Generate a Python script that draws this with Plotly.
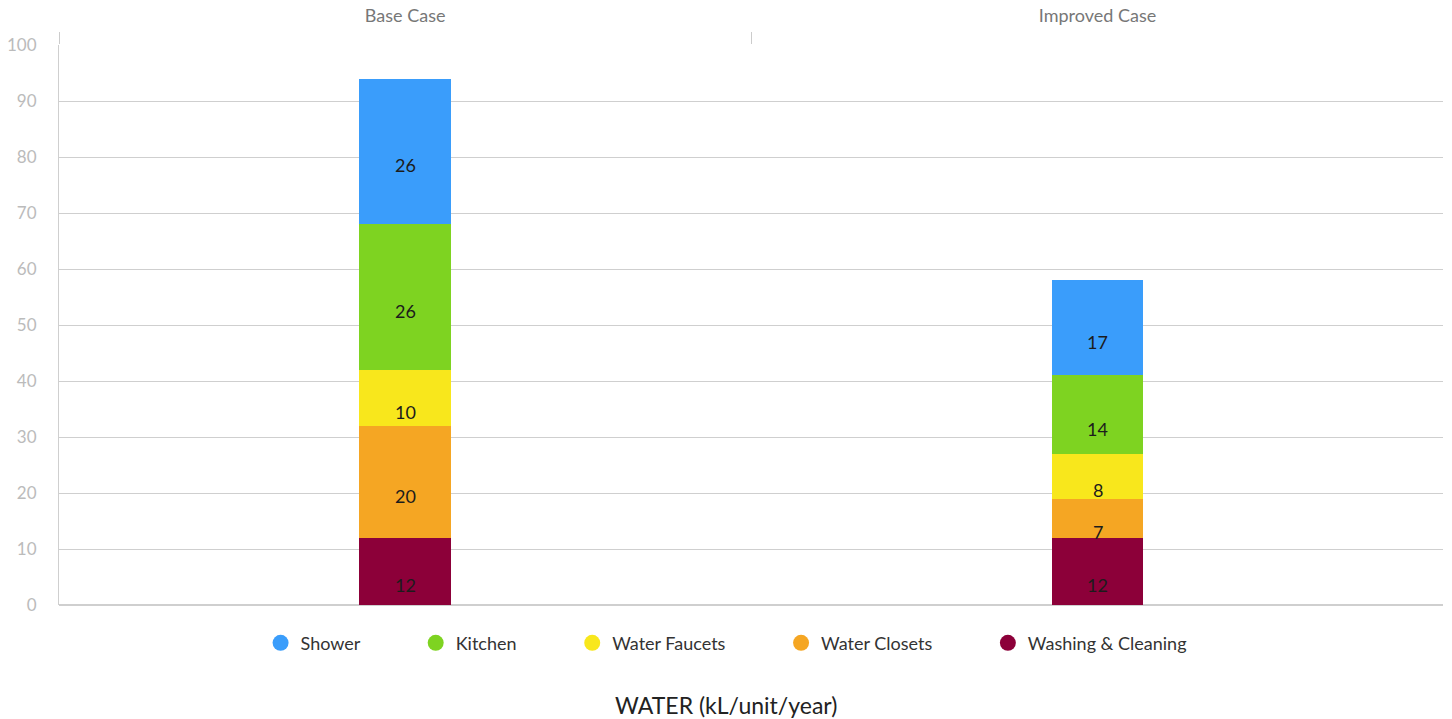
import plotly.graph_objects as go
import numpy as np

categories = ["Base Case", "Improved Case"]
series_names = ["Washing & Cleaning", "Water Closets", "Water Faucets", "Kitchen", "Shower"]
washing = [12, 12]
closets = [20, 7]
faucets = [10, 8]
kitchen = [26, 14]
shower = [26, 17]
y_ticks = [0, 10, 20, 30, 40, 50, 60, 70, 80, 90, 100]
legend_order = ["Shower", "Kitchen", "Water Faucets", "Water Closets", "Washing & Cleaning"]

colors = {
    "Shower": "#3a9dfb",
    "Kitchen": "#7ed321",
    "Water Faucets": "#f8e71c",
    "Water Closets": "#f5a623",
    "Washing & Cleaning": "#8c0039",
}
values = {
    "Washing & Cleaning": washing,
    "Water Closets": closets,
    "Water Faucets": faucets,
    "Kitchen": kitchen,
    "Shower": shower,
}
FONT = "Lato, Open Sans, sans-serif"
PAD = "\u00a0" * 11
PAGE_CENTER = 0.482  # page centre expressed in plot-area fraction

fig = go.Figure()
base = np.zeros(len(categories))
annotations = []
for name in series_names:
    v = np.array(values[name], dtype=float)
    fig.add_trace(go.Bar(
        x=categories, y=v, name=name, marker=dict(color=colors[name], line=dict(width=0)),
        width=0.132, showlegend=False, hoverinfo="y+name",
    ))
    for c, b, val in zip(categories, base, v):
        annotations.append(dict(
            x=c, y=b + val / 2, xref="x", yref="y", text=str(int(val)),
            showarrow=False, yshift=-14,
            font=dict(family=FONT, size=18, color="#1c1c1c"),
        ))
    base = base + v

# legend entries with circle markers
for i, name in enumerate(legend_order):
    label = name + (PAD if i < len(legend_order) - 1 else "")
    fig.add_trace(go.Scatter(
        x=[None], y=[None], mode="markers", name=label,
        marker=dict(symbol="circle", size=17, color=colors[name]),
        showlegend=True, hoverinfo="skip",
    ))

annotations.append(dict(
    x=PAGE_CENTER, y=0, xref="paper", yref="paper", yanchor="bottom", yshift=-116,
    text="WATER (kL/unit/year)", showarrow=False,
    font=dict(family=FONT, size=23, color="#222222"),
))

fig.update_layout(
    barmode="stack",
    width=1452, height=719,
    margin=dict(l=59, r=9, t=45, b=114),
    paper_bgcolor="white", plot_bgcolor="white",
    font=dict(family=FONT, color="#333333"),
    legend=dict(orientation="h", x=PAGE_CENTER, xanchor="center", y=-0.035, yanchor="top",
                font=dict(family=FONT, size=18, color="#333333"), itemwidth=30,
                traceorder="normal"),
    annotations=annotations,
    xaxis=dict(
        side="top", type="category", tickson="boundaries", ticks="outside",
        ticklen=12, tickcolor="#cccccc", showgrid=False, showline=False,
        tickfont=dict(family=FONT, size=18, color="#777777"),
        ticklabelstandoff=18, automargin=False,
        range=[-0.5, 1.499], fixedrange=True,
    ),
    yaxis=dict(
        range=[0, 100], tickvals=y_ticks, showgrid=True, gridcolor="#cfcfcf",
        gridwidth=1, showline=True, linecolor="#cfcfcf", linewidth=1,
        zeroline=True, zerolinecolor="#cfcfcf", automargin=False,
        tickfont=dict(family=FONT, size=17, color="#bbbbbb"), ticks="",
        ticklabelstandoff=18,
    ),
)

fig.write_html("out.html")
